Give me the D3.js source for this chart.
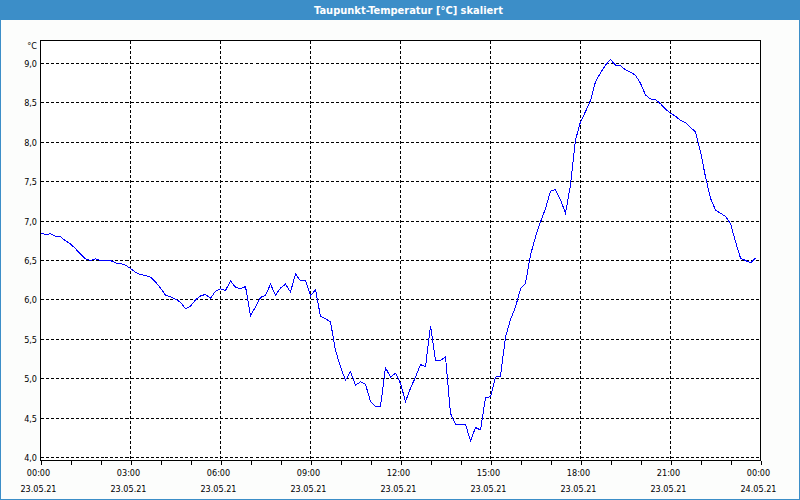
<!DOCTYPE html>
<html><head><meta charset="utf-8">
<script src="https://cdn.jsdelivr.net/npm/d3@7"></script>
<style>
html,body{margin:0;padding:0;background:#fcfdfc;}
svg{display:block;}
text{font-family:"DejaVu Sans Condensed","DejaVu Sans",sans-serif;font-stretch:condensed;}
</style></head>
<body>
<svg id="c" width="800" height="500"></svg>
<script>
const title = "Taupunkt-Temperatur [°C] skaliert";
const unit = "°C";
const startTime = new Date(2021, 4, 23, 0, 0);
const endTime = new Date(2021, 4, 24, 0, 0);
const stepMinutes = 10;
const dewPoint = [
6.85,6.83,6.84,6.81,6.80,6.75,6.71,6.65,6.58,6.52,6.50,6.52,6.50,6.50,6.50,6.47,6.46,6.44,6.40,6.35,
6.32,6.31,6.29,6.23,6.15,6.06,6.04,6.01,5.97,5.89,5.92,6.00,6.05,6.07,6.02,6.11,6.14,6.12,6.24,6.16,
6.14,6.17,5.80,5.91,6.03,6.06,6.20,6.06,6.15,6.20,6.10,6.33,6.24,6.25,6.05,6.13,5.79,5.76,5.72,5.36,
5.15,4.98,5.09,4.92,4.96,4.93,4.71,4.65,4.65,5.14,5.02,5.07,4.94,4.71,4.88,5.02,5.18,5.15,5.67,5.23,
5.23,5.28,4.56,4.42,4.42,4.42,4.21,4.38,4.35,4.76,4.77,5.02,5.03,5.53,5.75,5.91,6.14,6.21,6.57,6.80,
6.99,7.16,7.38,7.40,7.27,7.10,7.46,8.03,8.26,8.39,8.53,8.77,8.88,8.98,9.05,8.98,8.97,8.92,8.89,8.85,
8.75,8.60,8.55,8.54,8.49,8.42,8.37,8.33,8.28,8.25,8.19,8.13,7.88,7.56,7.29,7.14,7.10,7.06,6.97,6.74,
6.53,6.50,6.47,6.53];
const yTicks = [4.0,4.5,5.0,5.5,6.0,6.5,7.0,7.5,8.0,8.5,9.0];
const yTickLabels = ["4,0","4,5","5,0","5,5","6,0","6,5","7,0","7,5","8,0","8,5","9,0"];
const xLabelHours = [0,3,6,9,12,15,18,21,24];
const xTimeLabels = ["00:00","03:00","06:00","09:00","12:00","15:00","18:00","21:00","00:00"];
const xDateLabels = ["23.05.21","23.05.21","23.05.21","23.05.21","23.05.21","23.05.21","23.05.21","23.05.21","24.05.21"];

const svg = d3.select("#c");
const L = 40.5, R = 760.5, T = 40.5, B = 460.5;

// outer frame & title bar
svg.append("rect").attr("x",0).attr("y",0).attr("width",800).attr("height",500).attr("fill","#fcfdfc");
svg.append("rect").attr("x",0.5).attr("y",0.5).attr("width",799).attr("height",499)
  .attr("fill","none").attr("stroke","#3c8ec8").attr("stroke-width",1);
svg.append("rect").attr("x",0).attr("y",0).attr("width",800).attr("height",20).attr("fill","#3c8ec8");
svg.append("text").attr("x",408.5).attr("y",14).attr("text-anchor","middle")
  .attr("fill","#ffffff").style("font-size","11px").style("font-weight","bold").text(title);

const x = d3.scaleTime().domain([startTime, endTime]).range([L, R]);
const y = d3.scaleLinear().domain([4, 9]).range([457.5, 63.5]);

// plot background
svg.append("rect").attr("x",L).attr("y",T).attr("width",R-L).attr("height",B-T).attr("fill","#ffffff");

const grid = svg.append("g").attr("stroke","#000").attr("stroke-width",1)
  .attr("stroke-dasharray","3,2").attr("shape-rendering","crispEdges");
yTicks.forEach(v => {
  grid.append("line").attr("x1",L).attr("x2",R).attr("y1",y(v)).attr("y2",y(v));
});
xLabelHours.filter(h => h>0 && h<24).forEach(h => {
  const xx = x(d3.timeHour.offset(startTime,h));
  grid.append("line").attr("x1",xx).attr("x2",xx).attr("y1",T).attr("y2",B);
});

// line
const line = d3.line()
  .x((d,i) => x(d3.timeMinute.offset(startTime, i*stepMinutes)))
  .y(d => y(d));
svg.append("path").datum(dewPoint).attr("d",line).attr("fill","none")
  .attr("stroke","#0000ff").attr("stroke-width",1).attr("shape-rendering","crispEdges");

// frame
svg.append("rect").attr("x",L).attr("y",T).attr("width",R-L).attr("height",B-T)
  .attr("fill","none").attr("stroke","#000").attr("shape-rendering","crispEdges");

// x axis
const xAxis = d3.axisBottom(x).ticks(d3.timeHour.every(1)).tickSize(4).tickFormat("");
const gx = svg.append("g").attr("transform",`translate(0,${B})`).call(xAxis);
gx.select(".domain").remove();
gx.selectAll(".tick line").attr("stroke","#000").attr("shape-rendering","crispEdges");

const lab = svg.append("g").style("font-size","9px").attr("fill","#000");
xLabelHours.forEach((h,i) => {
  const xx = x(d3.timeHour.offset(startTime,h)) - 2;
  lab.append("text").attr("x",xx).attr("y",476).attr("text-anchor","middle").text(xTimeLabels[i]);
  lab.append("text").attr("x",xx).attr("y",492).attr("text-anchor","middle").text(xDateLabels[i]);
});
yTicks.forEach((v,i) => {
  lab.append("text").attr("x",37).attr("y",y(v)+3.5).attr("text-anchor","end").text(yTickLabels[i]);
});
lab.append("text").attr("x",37).attr("y",49).attr("text-anchor","end").text(unit);
</script>
</body></html>
